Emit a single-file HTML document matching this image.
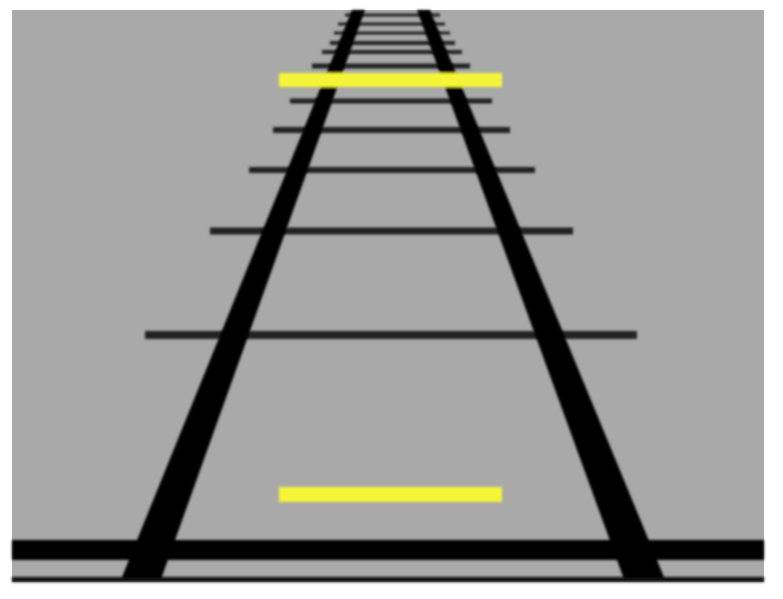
<!DOCTYPE html>
<html><head><meta charset="utf-8"><style>html,body{margin:0;padding:0;background:#fff}svg{display:block}</style></head>
<body>
<svg width="783" height="599" viewBox="0 0 783 599">
<defs><filter id="b"><feGaussianBlur stdDeviation="1.2"/></filter></defs>
<rect x="12" y="10" width="752" height="572" fill="#a9a9a9"/>
<g id="ties" filter="url(#b)"></g>
<g filter="url(#b)">
<polygon points="352,10 365,10 160,582 120,582" fill="#000"/>
<polygon points="417,10 430,10 666,582 625,582" fill="#000"/>
<rect x="12" y="540" width="752" height="20" fill="#050505"/>
<rect x="12" y="577" width="752" height="5" fill="#111"/>
<rect x="279" y="73" width="223" height="14" fill="#f5f538"/>
<rect x="279" y="487" width="223" height="15" fill="#f5f538"/>
</g>
<script>
const tieY=[15,24,33,43,52,66,101,130,170,231,335];
const tieX1=[345,338,334,330,322,312,290,273,249,210,145];
const tieX2=[440,445,450,455,462,470,492,510,535,573,637];
const tieH=[3,3,3,4,4,5,5,6,6,7,8];
const g=document.getElementById('ties');
tieY.forEach((y,i)=>{
 const r=document.createElementNS('http://www.w3.org/2000/svg','rect');
 r.setAttribute('x',tieX1[i]);r.setAttribute('width',tieX2[i]-tieX1[i]);
 r.setAttribute('y',y-tieH[i]/2);r.setAttribute('height',tieH[i]);
 r.setAttribute('fill','#222');
 
 
 g.appendChild(r);
});
</script>
</svg>
</body></html>
